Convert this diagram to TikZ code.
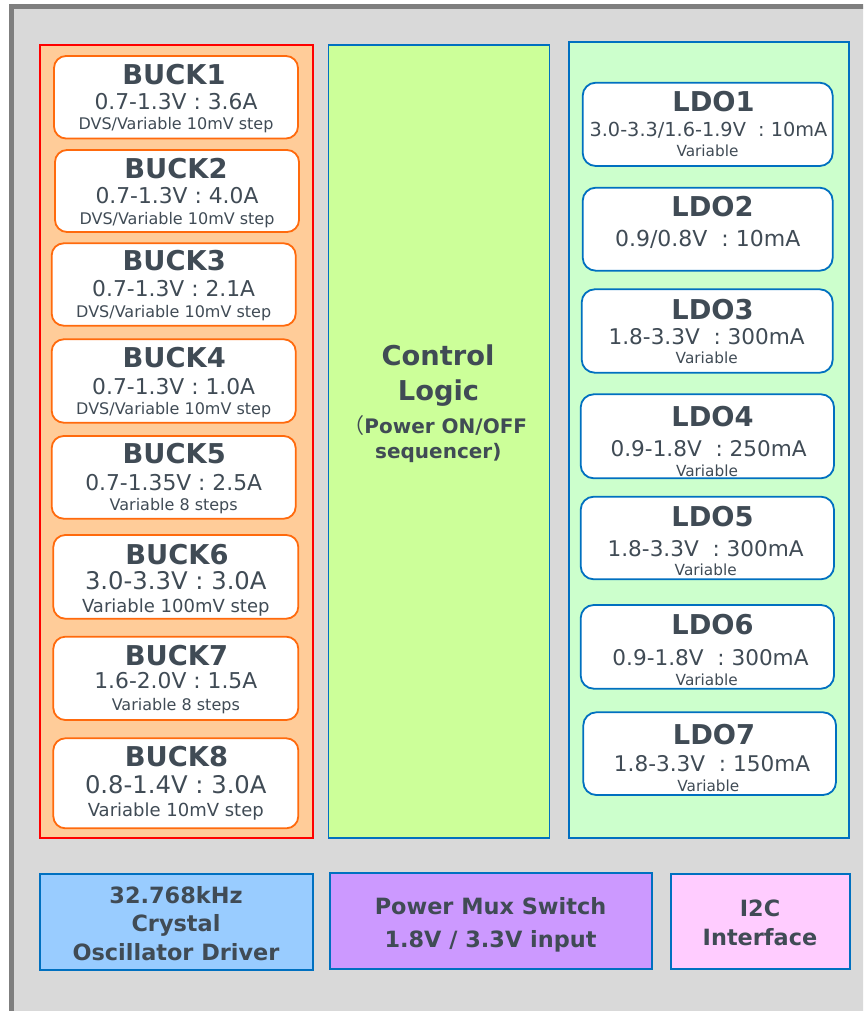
\documentclass[tikz,border=0pt]{standalone}
\usepackage{fontspec}
\setmainfont{DejaVu Sans}
\newfontfamily\cjk{Noto Sans CJK JP}
\definecolor{txt}{HTML}{404B55}
\definecolor{framegray}{HTML}{7F7F7F}
\definecolor{bggray}{HTML}{D9D9D9}
\definecolor{bucko}{HTML}{FF6A0D}
\definecolor{ldob}{HTML}{0070C0}
\definecolor{peach}{HTML}{FFCC99}
\definecolor{lime}{HTML}{CCFF99}
\definecolor{mint}{HTML}{CCFFCC}
\definecolor{skyb}{HTML}{99CCFF}
\definecolor{lilac}{HTML}{CC99FF}
\definecolor{pinkl}{HTML}{FFCCFF}
\newcommand\fsz[1]{\fontsize{#1}{#1}\selectfont}
\newcommand\rect[6][]{\node[#1, minimum width={#5-#3}, minimum height={#6-#4}, inner sep=0pt, outer sep=0pt] (#2) at ({(#3+#5)/2},{(#4+#6)/2}) {};}
\tikzset{
  outerframe/.style={draw=framegray, fill=bggray, line width=4.7pt},
  redpanel/.style={draw=red, fill=peach, line width=2pt},
  ctlpanel/.style={draw=ldob, fill=lime, line width=1.5pt},
  ldopanel/.style={draw=ldob, fill=mint, line width=2pt},
  buckbox/.style={draw=bucko, fill=white, rounded corners=12pt, line width=1.8pt},
  ldobox/.style={draw=ldob, fill=white, rounded corners=13pt, line width=1.8pt},
  botbox/.style={draw=ldob, line width=2pt},
  tx/.style={anchor=base, inner sep=0pt, outer sep=0pt, text=txt},
  ttl/.style={tx, font=\fsz{27.3}\bfseries},
  lnb/.style={tx, font=\fsz{21.8}},
  lnbb/.style={tx, font=\fsz{24.3}},
  lnc/.style={tx, font=\fsz{16}},
  lncc/.style={tx, font=\fsz{18}},
  lnl/.style={tx, font=\fsz{21.6}},
  lnv/.style={tx, font=\fsz{15.3}},
  ctl/.style={tx, font=\fsz{27.3}\bfseries},
  ctls/.style={tx, font=\fsz{20}\bfseries},
  bot/.style={tx, font=\fsz{22.4}\bfseries},
}
\begin{document}
\begin{tikzpicture}[x=1pt,y=-1pt]
\useasboundingbox (0,0) rectangle (863,1011);
\clip (0,0) rectangle (863,1011);
\fill[white] (0,0) rectangle (863,1011);
\rect[outerframe]{frame}{11.7}{6.5}{920}{1060}
% panels
\rect[redpanel]{bpanel}{40}{45.5}{312.5}{838.3}
\rect[ctlpanel]{cpanel}{328.3}{45}{549.5}{838}
\rect[ldopanel]{lpanel}{568.5}{42.3}{849}{838.3}
% buck boxes
\rect[buckbox]{b1}{54}{56}{298}{138.5}
\rect[buckbox]{b2}{55}{150}{299}{232}
\rect[buckbox]{b3}{51.7}{243.3}{295.7}{325.7}
\rect[buckbox]{b4}{51.7}{339.3}{295.7}{422.7}
\rect[buckbox]{b5}{51.7}{436}{295.7}{518.7}
\rect[buckbox]{b6}{53.3}{535}{298.3}{618.7}
\rect[buckbox]{b7}{53.3}{636.7}{298.3}{720}
\rect[buckbox]{b8}{53.3}{738.3}{298.3}{828.3}
\node[ttl] (b1a) at (174,85) {BUCK1};
\node[lnb] (b1b) at (176,110) {0.7-1.3V : 3.6A};
\node[lnc] (b1c) at (176,129.3) {DVS/Variable 10mV step};
\node[ttl] (b2a) at (176,178.3) {BUCK2};
\node[lnb] (b2b) at (177,204) {0.7-1.3V : 4.0A};
\node[lnc] (b2c) at (177,224) {DVS/Variable 10mV step};
\node[ttl] (b3a) at (174.2,270.7) {BUCK3};
\node[lnb] (b3b) at (173.7,296.7) {0.7-1.3V : 2.1A};
\node[lnc] (b3c) at (173.7,317.3) {DVS/Variable 10mV step};
\node[ttl] (b4a) at (174.2,367.3) {BUCK4};
\node[lnb] (b4b) at (173.7,394) {0.7-1.3V : 1.0A};
\node[lnc] (b4c) at (173.7,414) {DVS/Variable 10mV step};
\node[ttl] (b5a) at (174.2,463.3) {BUCK5};
\node[lnb] (b5b) at (173.7,490) {0.7-1.35V : 2.5A};
\node[lnc] (b5c) at (173.7,510) {Variable 8 steps};
\node[ttl] (b6a) at (177,564) {BUCK6};
\node[lnbb] (b6b) at (175.8,589) {3.0-3.3V : 3.0A};
\node[lncc] (b6c) at (175.8,612.3) {Variable 100mV step};
\node[ttl] (b7a) at (176.5,665.7) {BUCK7};
\node[lnb] (b7b) at (175.8,688.3) {1.6-2.0V : 1.5A};
\node[lnc] (b7c) at (175.8,710) {Variable 8 steps};
\node[ttl] (b8a) at (176.5,766.7) {BUCK8};
\node[lnbb] (b8b) at (175.8,793.3) {0.8-1.4V : 3.0A};
\node[lncc] (b8c) at (175.8,816.7) {Variable 10mV step};
% control logic
\node[ctl] (c1) at (438,365) {Control};
\node[ctl] (c2) at (438.5,400) {Logic};
\node[ctls] (c3) at (445.8,433.3) {Power ON/OFF};
\node[tx, font=\fsz{21}\cjk, anchor=base east] (c3p) at (c3.base west) {（};
\node[ctls] (c4) at (438.3,458.3) {sequencer)};
% ldo boxes
\rect[ldobox]{l1}{582.7}{82.7}{832.7}{166}
\rect[ldobox]{l2}{582.7}{187.7}{832.7}{270.7}
\rect[ldobox]{l3}{581.7}{289.3}{832.7}{372.7}
\rect[ldobox]{l4}{580.7}{394.3}{834}{478.3}
\rect[ldobox]{l5}{580.7}{496.7}{834}{579.3}
\rect[ldobox]{l6}{580.7}{605}{834}{688.7}
\rect[ldobox]{l7}{583.3}{712.3}{836}{795}
\node[ttl] (l1a) at (713.5,111.7) {LDO1};
\node[tx, font=\fsz{19.3}] (l1b) at (708.5,136.7) {3.0-3.3/1.6-1.9V~ : 10mA};
\node[lnv] (l1c) at (707.5,156.7) {Variable};
\node[ttl] (l2a) at (712.5,216.7) {LDO2};
\node[tx, font=\fsz{22}] (l2b) at (707.7,246) {0.9/0.8V~ : 10mA};
\node[ttl] (l3a) at (712.5,319.3) {LDO3};
\node[lnl] (l3b) at (706.7,344) {1.8-3.3V~ : 300mA};
\node[lnv] (l3c) at (706.7,363.3) {Variable};
\node[ttl] (l4a) at (712.5,426.7) {LDO4};
\node[lnl] (l4b) at (708.7,456.7) {0.9-1.8V~ : 250mA};
\node[lnv] (l4c) at (707,476.7) {Variable};
\node[ttl] (l5a) at (712.5,526) {LDO5};
\node[lnl] (l5b) at (705.7,556) {1.8-3.3V~ : 300mA};
\node[lnv] (l5c) at (705.7,575.3) {Variable};
\node[ttl] (l6a) at (712.5,634) {LDO6};
\node[lnl] (l6b) at (710.5,665) {0.9-1.8V~ : 300mA};
\node[lnv] (l6c) at (706.7,685) {Variable};
\node[ttl] (l7a) at (714,744) {LDO7};
\node[lnl] (l7b) at (712,771.7) {1.8-3.3V~ : 150mA};
\node[lnv] (l7c) at (708.3,791) {Variable};
% bottom blocks
\rect[botbox, fill=skyb]{osc}{39.5}{874}{312.7}{970}
\rect[botbox, fill=lilac]{mux}{330}{872.7}{651.7}{969.3}
\rect[botbox, fill=pinkl]{i2c}{670.7}{874}{850}{969.3}
\node[bot] (osc1) at (176,903.3) {32.768kHz};
\node[bot] (osc2) at (176,931.7) {Crystal};
\node[bot] (osc3) at (176,960) {Oscillator Driver};
\node[bot] (mux1) at (490.5,914) {Power Mux Switch};
\node[bot] (mux2) at (490.5,947.3) {1.8V / 3.3V input};
\node[bot] (i2c1) at (760,916.7) {I2C};
\node[bot] (i2c2) at (760,945) {Interface};
\end{tikzpicture}
\end{document}
